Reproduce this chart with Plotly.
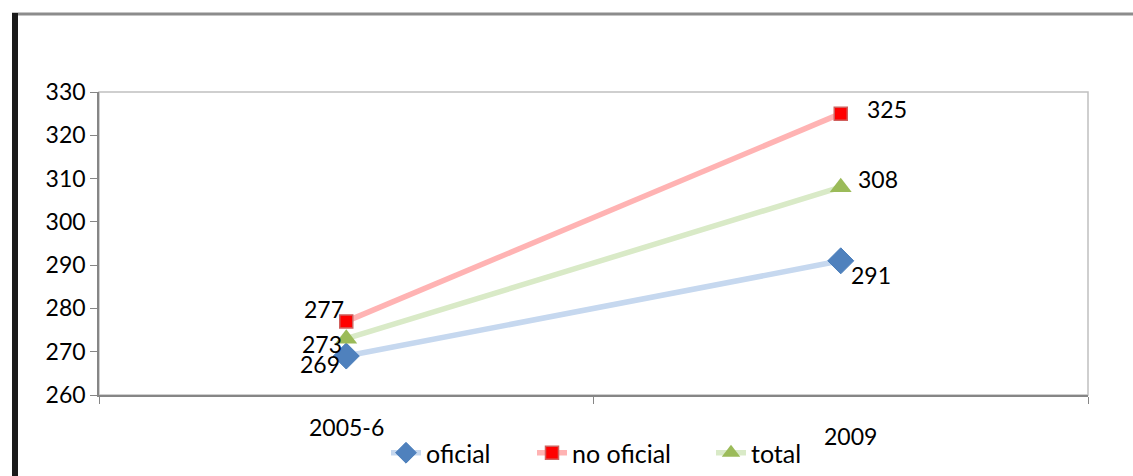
import plotly.graph_objects as go

categories = ["2005-6", "2009"]
oficial = [269, 291]
no_oficial = [277, 325]
total = [273, 308]
y_ticks = [260, 270, 280, 290, 300, 310, 320, 330]

FONT = "Lato"
FS = 23
fig = go.Figure()

series = [
    ("oficial", oficial, dict(color="#C6D8EF", width=5.5),
     dict(symbol="diamond", size=20, color="#4F81BD", line=dict(color="#4A7EBB", width=1)),
     [(-26, -8), (30, -14)], "legend", 427),
    ("no oficial", no_oficial, dict(color="#FFB3B3", width=5.5),
     dict(symbol="square", size=13, color="#FF0000", line=dict(color="#D0605D", width=1.5)),
     [(-22, 12), (46, 5)], "legend2", 573),
    ("total", total, dict(color="#D9EAC7", width=5.5),
     dict(symbol="triangle-up", size=19, color="#9BBB59"),
     [(-24, -5), (37, 8)], "legend3", 752),
]

L, R, T, B = 99, 45, 92, 81
W, H = 1133, 476
pw, ph = W - L - R, H - T - B

legends = {}
for name, vals, ln, mk, shifts, lg, text_x in series:
    fig.add_trace(go.Scatter(x=categories, y=vals, name=name, mode="lines+markers",
                             line=ln, marker=mk, cliponaxis=False, legend=lg))
    for i, v in enumerate(vals):
        fig.add_annotation(x=i, xref="x", y=v, yref="y", text=str(v), showarrow=False,
                           xshift=shifts[i][0], yshift=shifts[i][1],
                           font=dict(family=FONT, size=FS, color="black"))
    legends[lg] = dict(orientation="h", x=(text_x - 41) / W, xref="container", xanchor="left",
                       y=1 - 453 / H, yref="container", yanchor="middle",
                       font=dict(family=FONT, size=25, color="black"),
                       bgcolor="rgba(0,0,0,0)")

# category labels (placed as in the original, with uneven offsets)
label_y = [-0.107, -0.135]
label_dx = [0, 10]
for i, c in enumerate(categories):
    fig.add_annotation(x=i, xref="x", y=label_y[i], yref="paper", text=c, showarrow=False,
                       xshift=label_dx[i], font=dict(family=FONT, size=FS, color="black"),
                       yanchor="middle")

def px_x(p):
    return (p - L) / pw

def px_y(p):
    return (H - B - p) / ph

# plot-area border (light)
fig.add_shape(type="rect", xref="paper", yref="paper", x0=0, x1=1, y0=0, y1=1,
              line=dict(color="#C0C0C0", width=1.5), layer="below")
# outer frame shadow: top and left
fig.add_shape(type="line", xref="paper", yref="paper", x0=px_x(12), x1=px_x(1140),
              y0=px_y(14), y1=px_y(14), line=dict(color="#8C8C8C", width=3))
fig.add_shape(type="line", xref="paper", yref="paper", x0=px_x(15), x1=px_x(15),
              y0=px_y(13), y1=px_y(480), line=dict(color="#1A1A1A", width=6))

fig.update_layout(
    width=W, height=H,
    margin=dict(l=L, r=R, t=T, b=B, autoexpand=False),
    paper_bgcolor="white", plot_bgcolor="white",
    font=dict(family=FONT, size=FS, color="black"),
    showlegend=True,
    xaxis=dict(type="category", range=[-0.5, 1.5], showticklabels=False,
               ticks="outside", tickson="boundaries", ticklen=7, tickcolor="#868686",
               showline=True, linecolor="#868686", linewidth=1.5, showgrid=False, zeroline=False),
    yaxis=dict(range=[260, 330], tickvals=y_ticks, ticks="outside", ticklen=7,
               tickcolor="#868686", showline=True, linecolor="#868686", linewidth=1.5,
               showgrid=False, zeroline=False, tickfont=dict(family=FONT, size=FS, color="black")),
    **legends,
)

fig.write_html("out.html", config={"displayModeBar": False},
               post_script="document.body.style.margin='0px';")
